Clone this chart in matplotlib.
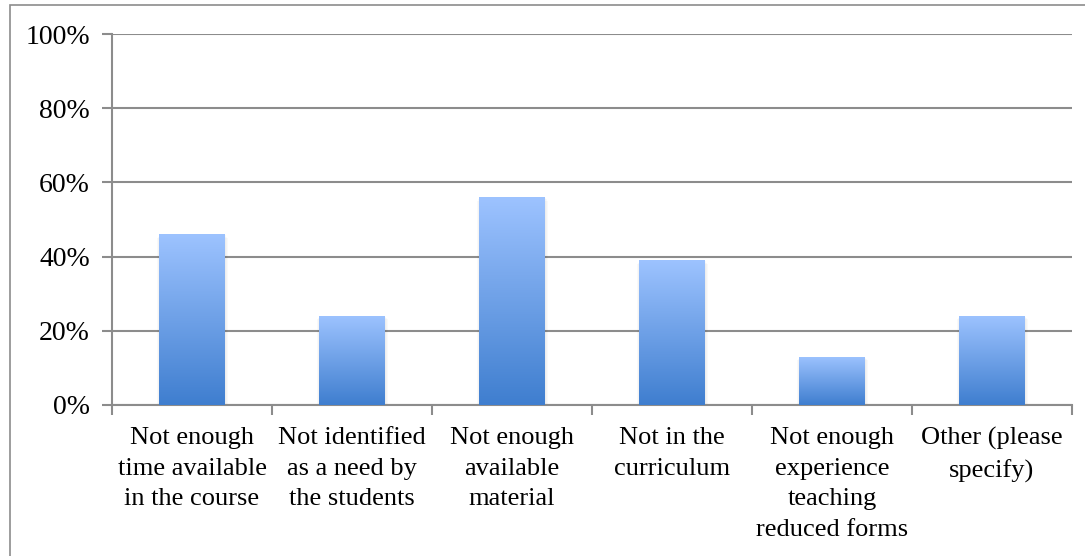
import matplotlib.pyplot as plt
import numpy as np
from matplotlib.colors import LinearSegmentedColormap
from matplotlib.patches import Rectangle
from matplotlib.ticker import PercentFormatter

categories = [
    "Not enough\ntime available\nin the course",
    "Not identified\nas a need by\nthe students",
    "Not enough\navailable\nmaterial",
    "Not in the\ncurriculum",
    "Not enough\nexperience\nteaching\nreduced forms",
    "Other (please\nspecify)",
]
values = [46, 24, 56, 39, 13, 24]

plt.rcParams['font.family'] = ['Liberation Serif', 'DejaVu Serif']

fig = plt.figure(figsize=(10.85, 5.56), dpi=100)
ax = fig.add_axes([112 / 1085, 1 - 405 / 556, 960 / 1085, 371 / 556])

# outer frame around the chart area
fig.patches.append(Rectangle((10 / 1085, -0.01), 1.0, 1 - 5 / 556 + 0.01,
                             transform=fig.transFigure, fill=False,
                             edgecolor='#8c8c8c', linewidth=1.2))

grad = LinearSegmentedColormap.from_list('g', ['#3f7ecf', '#9dc3ff'])
x = np.arange(len(values))
width = 0.41
bars = ax.bar(x, values, width, color='none', zorder=3)
for b in bars:
    x0, w, h = b.get_x(), b.get_width(), b.get_height()
    # faint shadow around each bar
    for k in range(1, 4):
        d = 0.006 * k
        ax.add_patch(Rectangle((x0 - d * 0.6, 0), w + d * 1.6, h - 0.3 * k,
                               facecolor='#000000', alpha=0.025, zorder=2,
                               linewidth=0))
    img = ax.imshow(np.linspace(0, 1, 256).reshape(-1, 1), cmap=grad,
                    extent=[x0, x0 + w, 0, h], origin='lower',
                    aspect='auto', zorder=3)
    img.set_clip_path(b)

ax.set_xlim(-0.5, len(values) - 0.5)
ax.set_ylim(0, 100)
ax.set_yticks(range(0, 101, 20))
ax.yaxis.set_major_formatter(PercentFormatter(decimals=0))
ax.grid(axis='y', color='#8c8c8c', linewidth=1.5, zorder=0)
ax.set_axisbelow(True)

ax.set_xticks(x)
ax.set_xticklabels(categories, fontsize=19, linespacing=1.5)
ax.set_xticks(np.arange(-0.5, len(values), 1), minor=True)
ax.tick_params(axis='x', which='major', length=0, pad=16)
ax.tick_params(axis='x', which='minor', length=7, color='#8c8c8c', width=1.5)
ax.tick_params(axis='y', length=7, color='#8c8c8c', width=1.5, labelsize=20, pad=9)

for s in ['top', 'right']:
    ax.spines[s].set_visible(False)
for s in ['left', 'bottom']:
    ax.spines[s].set_color('#8c8c8c')
    ax.spines[s].set_linewidth(1.5)

fig.savefig('out.png', dpi=100)
